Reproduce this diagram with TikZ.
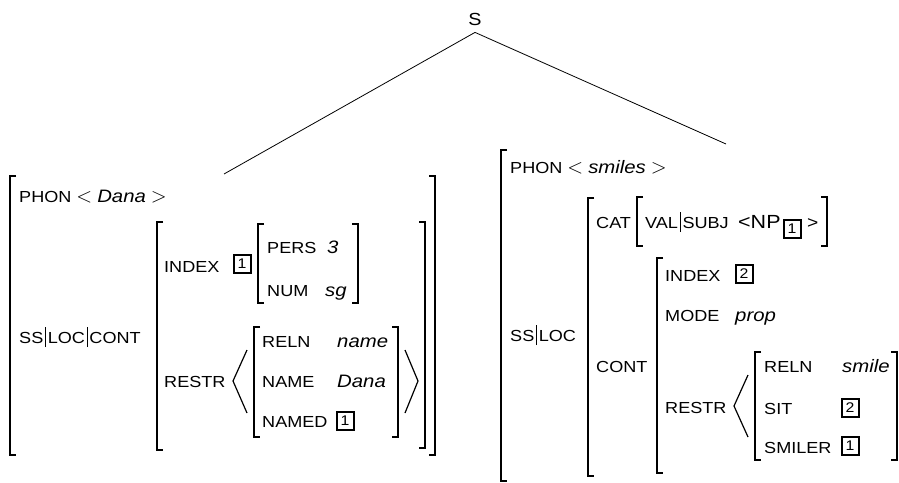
\documentclass[tikz,border=0pt]{standalone}
\usepackage{fontspec}
\setmainfont{Liberation Sans}
\newfontfamily\featf[FakeStretch=1.13]{Liberation Sans}
\newcommand\avmval[1]{{\featf\itshape\fontsize{18}{20}\selectfont #1}}
\newcommand\avmlt{{\fontsize{21}{22}\selectfont$<$}}
\newcommand\avmgt{{\fontsize{21}{22}\selectfont$>$}}
\newcommand\avmbar{\hspace{1.8pt}\rule[-4pt]{0.9pt}{20pt}\hspace{1.8pt}}
\tikzset{
  feat/.style={anchor=base west, inner sep=0pt, font={\featf\fontsize{16}{18}\selectfont}},
  val/.style={anchor=base west, inner sep=0pt, font={\featf\itshape\fontsize{18}{20}\selectfont}},
  tag/.style={draw, line width=2pt, minimum width=17pt, minimum height=18pt, inner sep=0pt,
              font={\featf\fontsize{14}{15}\selectfont}},
  brk/.style={line width=1.2pt},
  branch/.style={line width=0.8pt},
}
\newcommand\avmL[3]{\draw[brk] ({#1+6},#2) -- (#1,#2) -- (#1,#3) -- ({#1+6},#3);}
\newcommand\avmR[3]{\draw[brk] ({#1-6},#2) -- (#1,#2) -- (#1,#3) -- ({#1-6},#3);}
\begin{document}
\begin{tikzpicture}[x=1pt,y=-1pt]
\useasboundingbox (0,0) rectangle (899,482);

% tree
\node[inner sep=0pt, inner ysep=7pt, font={\featf\fontsize{17.5}{20}\selectfont}] (S) at (475,19) {S};
\coordinate (lt) at (224,174);
\coordinate (rt) at (726,144);
\draw[branch] (S.south) -- (lt);
\draw[branch] (S.south) -- (rt);

% ---------------- left AVM ----------------
\avmL{10}{176}{455}
\avmR{435}{176}{455}
\node[feat] (phonL) at (19,202) {PHON \avmlt{} \avmval{Dana} \avmgt};
\node[feat] (sslcL) at (19,343) {SS\avmbar LOC\avmbar CONT};
\avmL{157}{222}{450}
\avmR{425}{222}{448}
\node[feat] (indexL) at (164,272) {INDEX};
\node[tag] (tagIL) at (242,264) {1};
\avmL{258}{224}{303}
\avmR{358}{224}{303}
\node[feat] (persL) at (267,253) {PERS};
\node[val] (persV) at (327,253) {3};
\node[feat] (numL) at (267,296) {NUM};
\node[val] (numV) at (325,296) {sg};
\node[feat] (restrL) at (164,387) {RESTR};
\draw[brk] (247,350) -- (233,381) -- (247,413);
\avmL{254}{327}{437}
\avmR{398}{327}{437}
\node[feat] (relnL) at (262,347) {RELN};
\node[val] (relnV) at (337,347) {name};
\node[feat] (nameL) at (262,387) {NAME};
\node[val] (nameV) at (337,387) {Dana};
\node[feat] (namedL) at (262,427) {NAMED};
\node[tag] (tagNL) at (345,421) {1};
\draw[brk] (405,350) -- (418,381) -- (405,413);

% ---------------- right AVM ----------------
\avmL{501}{150}{481}
\node[feat] (phonR) at (510,173) {PHON \avmlt{} \avmval{smiles} \avmgt};
\node[feat] (sslR) at (510,341) {SS\avmbar LOC};
\avmL{588}{198}{476}
\node[feat] (catR) at (596,228) {CAT};
\avmL{637}{197}{246}
\avmR{827}{197}{246}
\node[feat] (valR) at (645,228) {VAL\avmbar SUBJ};
\node[anchor=base west, inner sep=0pt, font={\featf\fontsize{19}{22}\selectfont}] (npR) at (738,228) {<NP};
\node[tag] (tagNP) at (792,229) {1};
\node[anchor=base west, inner sep=0pt, font={\featf\fontsize{17}{20}\selectfont}] (gtR) at (807,228) {>};
\node[feat] (contR) at (596,372) {CONT};
\avmL{657}{258}{473}
\node[feat] (indexR) at (665,281) {INDEX};
\node[tag] (tagIR) at (744,274) {2};
\node[feat] (modeR) at (665,321) {MODE};
\node[val] (modeV) at (735,321) {prop};
\node[feat] (restrR) at (665,413) {RESTR};
\draw[brk] (748,375) -- (734,406) -- (748,437);
\avmL{755}{352}{460}
\avmR{897}{352}{460}
\node[feat] (relnR) at (764,372) {RELN};
\node[val] (relnRV) at (842,372) {smile};
\node[feat] (sitR) at (764,414) {SIT};
\node[tag] (tagSR) at (850,408) {2};
\node[feat] (smilerR) at (764,453) {SMILER};
\node[tag] (tagSmR) at (850,446) {1};
\end{tikzpicture}
\end{document}
